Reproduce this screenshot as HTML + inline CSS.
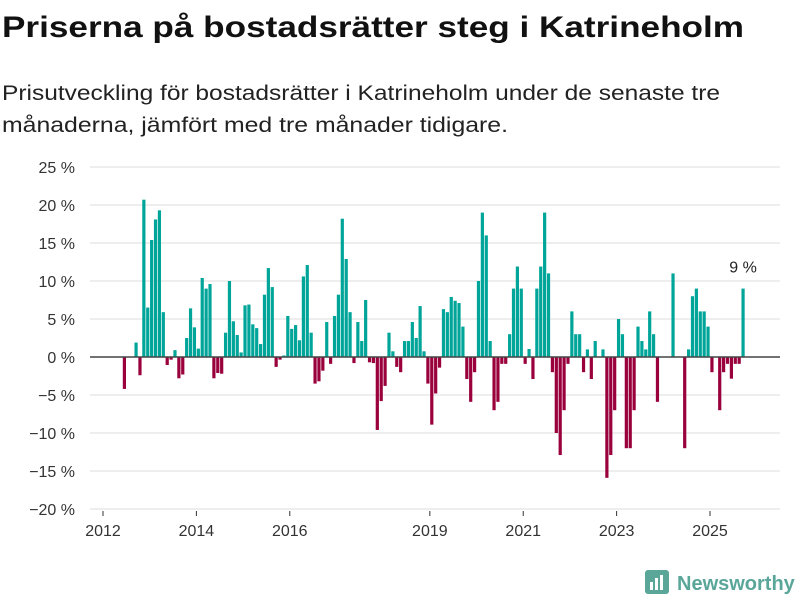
<!DOCTYPE html>
<html><head><meta charset="utf-8">
<style>
body{margin:0;background:#fff;width:800px;height:600px;overflow:hidden;font-family:"Liberation Sans",sans-serif;}
svg text{font-family:"Liberation Sans",sans-serif;}
</style></head>
<body>
<svg id="chart" width="800" height="600" xmlns="http://www.w3.org/2000/svg">
<text x="2" y="37" font-size="30" font-weight="bold" fill="#111" textLength="742" lengthAdjust="spacingAndGlyphs">Priserna på bostadsrätter steg i Katrineholm</text>
<text x="2" y="100" font-size="21" fill="#222" textLength="718" lengthAdjust="spacingAndGlyphs">Prisutveckling för bostadsrätter i Katrineholm under de senaste tre</text>
<text x="2" y="132" font-size="21" fill="#222" textLength="506" lengthAdjust="spacingAndGlyphs">månaderna, jämfört med tre månader tidigare.</text>
<g id="grid"></g><g id="bars"></g><g id="axes"></g>
<g>
<rect x="645" y="570" width="24" height="24" rx="3" fill="#5aa79a"/>
<rect x="650" y="582" width="3" height="8" fill="#fff"/><rect x="655" y="578" width="3" height="12" fill="#fff"/><rect x="660" y="575" width="3" height="15" fill="#fff"/>
<text x="677" y="590" font-size="20" font-weight="bold" fill="#5aa79a">Newsworthy</text>
</g>
</svg>
<script>
const months = [5,8,9,10,11,12,13,14,15,16,17,18,19,20,21,22,23,24,25,26,27,28,29,30,31,32,33,34,35,36,37,38,39,40,41,42,43,44,45,46,47,48,49,50,51,52,53,54,55,56,57,58,59,60,61,62,63,64,65,66,67,68,69,70,71,72,73,74,75,76,77,78,79,80,81,82,83,84,85,86,87,88,89,90,91,92,93,94,95,96,97,98,99,100,101,102,103,104,105,106,107,108,109,110,111,112,113,114,115,116,117,118,119,120,121,122,123,124,125,126,128,129,130,131,132,133,134,135,136,137,138,139,140,141,142,146,149,150,151,152,153,154,155,156,158,159,160,161,162,163,164];
const values = [-4.2,1.9,-2.4,20.7,6.5,15.4,18.1,19.3,5.9,-1.05,-0.35,0.9,-2.8,-2.3,2.5,6.4,3.9,1.1,10.4,9.0,9.6,-2.8,-2.1,-2.2,3.2,10.0,4.7,2.9,0.6,6.8,6.9,4.3,3.8,1.7,8.2,11.7,9.2,-1.3,-0.35,0.2,5.4,3.7,4.2,2.2,10.6,12.1,3.2,-3.5,-3.2,-1.8,4.6,-0.9,5.4,8.2,18.2,12.9,5.9,-0.8,4.6,2.1,7.5,-0.7,-0.8,-9.6,-5.8,-3.8,3.2,0.75,-1.3,-2.0,2.1,2.1,4.6,2.5,6.7,0.75,-3.5,-8.9,-4.8,-1.4,6.3,5.9,7.9,7.4,7.1,4.0,-2.9,-5.9,-2.0,10.0,19.0,16.0,2.1,-7.0,-5.9,-0.9,-0.9,3.0,9.0,11.9,9.0,-0.9,1.05,-2.9,9.0,11.9,19.0,11.0,-2.0,-10.0,-12.9,-7.0,-0.9,6.0,3.0,3.0,-2.0,1.0,-2.9,2.1,1.0,-15.9,-12.9,-7.0,5.0,3.0,-12.0,-12.0,-7.0,4.0,2.1,1.0,6.0,3.0,-5.9,11.0,-12.0,1.0,8.0,9.0,6.0,6.0,4.0,-2.0,-7.0,-2.0,-0.9,-2.85,-0.9,-0.9,9.0];
const yTicks = [25,20,15,10,5,0,-5,-10,-15,-20];
const xTickYears = [2012,2014,2016,2019,2021,2023,2025];
const lastLabel = "9 %";

const NS="http://www.w3.org/2000/svg";
const y = v => 357 - v*7.6;
const xm = m => 103 + m*3.891;
const yr = Y => xm((Y-2012)*12);
function mk(tag, attrs, parent){const e=document.createElementNS(NS,tag);for(const k in attrs)e.setAttribute(k,attrs[k]);parent.appendChild(e);return e;}
const grid=document.getElementById('grid'), bars=document.getElementById('bars'), axes=document.getElementById('axes');
yTicks.forEach(t=>{
  const l=mk('line',{x1:90,x2:780,y1:y(t),y2:y(t),stroke:'#dedede','stroke-width':1},grid);
  
  
  const tx=mk('text',{x:75,y:y(t)+6,'text-anchor':'end','font-size':16,fill:'#333'},axes);
  tx.textContent=(t<0?'\u2212'+(-t):t)+' %';
  
  
});
months.forEach((m,i)=>{
  const v=values[i];
  const cx=xm(m+0.5);
  const r=mk('rect',{x:cx-1.6,width:3.2,y:Math.min(y(v),y(0)),height:Math.abs(y(v)-y(0)),fill:v>=0?'#00a59a':'#99003c'},bars);
  
  
});
const zl=mk('line',{x1:90,x2:780,y1:y(0),y2:y(0),stroke:'#444','stroke-width':1.5},axes);


xTickYears.forEach(Y=>{
  const x=yr(Y);
  const tk=mk('line',{x1:x,x2:x,y1:511,y2:516,stroke:'#333','stroke-width':1},axes);
  
  
  const tx=mk('text',{x:x,y:536,'text-anchor':'middle','font-size':16,fill:'#333'},axes);
  tx.textContent=Y;
  
  
});
const lm=months[months.length-1], lv=values[values.length-1];
const lt=mk('text',{x:xm(lm+0.5),y:y(lv)-16,'text-anchor':'middle','font-size':16,fill:'#222'},axes);
lt.textContent=lastLabel;


</script>
</body></html>
